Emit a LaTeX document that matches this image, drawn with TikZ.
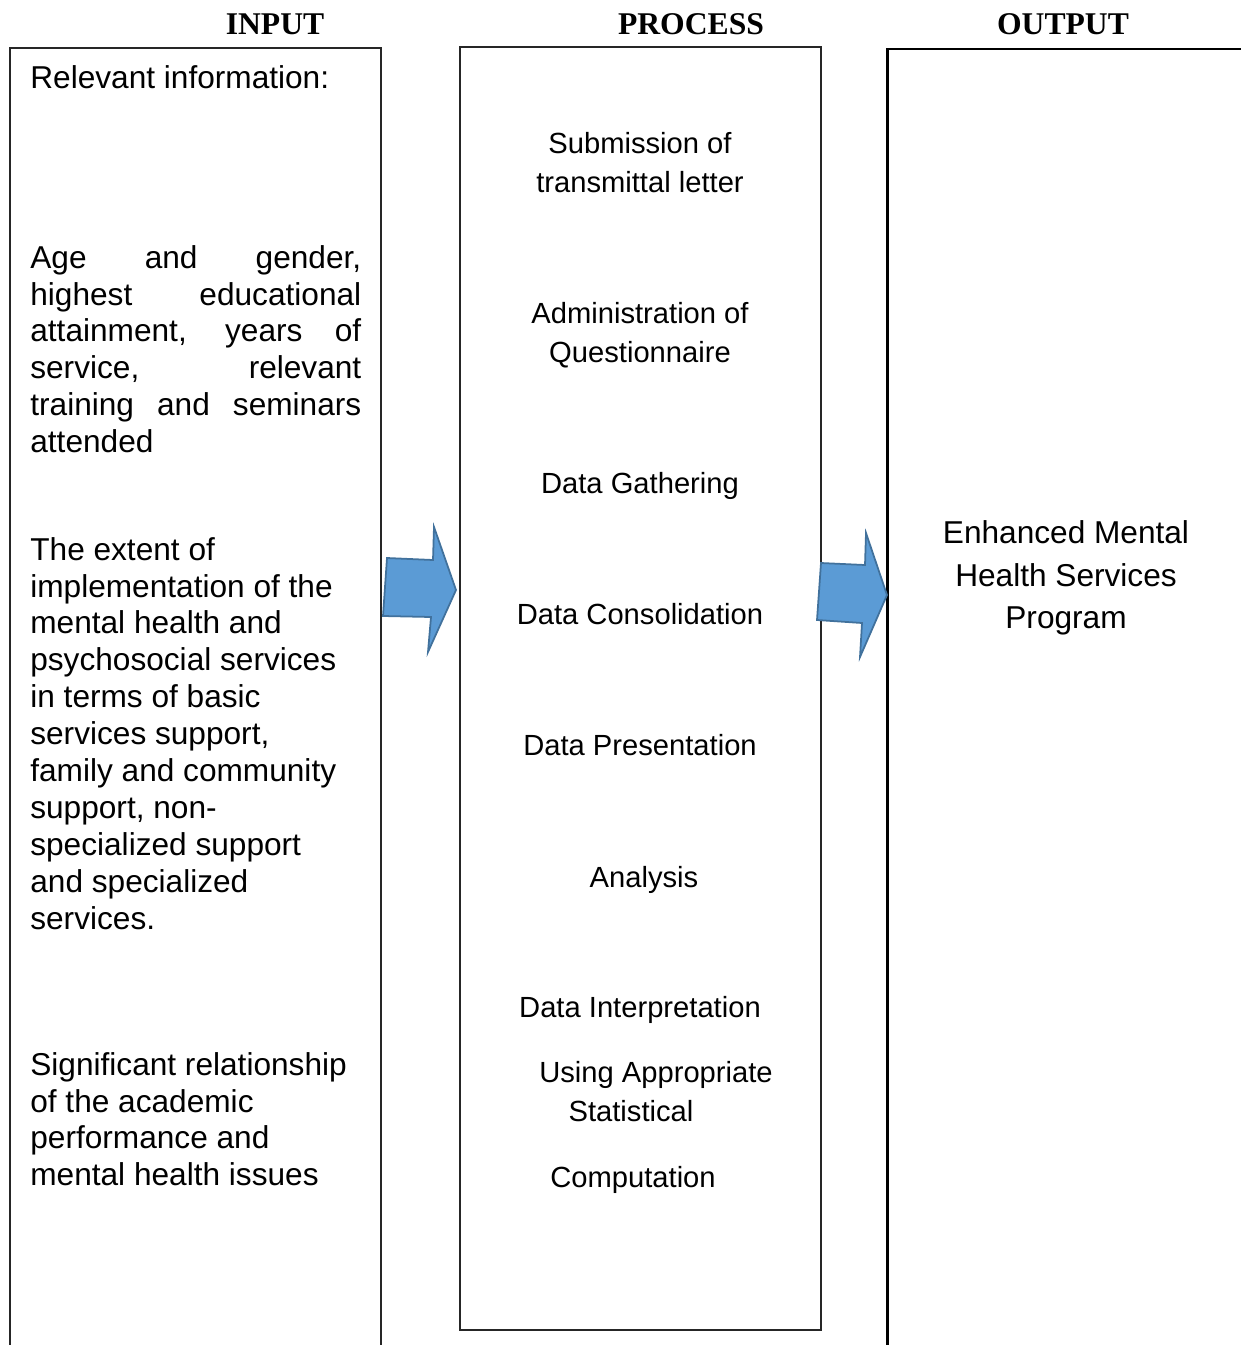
\documentclass[tikz,border=0pt]{standalone}
\usepackage{fontspec}
\setmainfont{Liberation Sans}
\newfontfamily\headfont{Liberation Serif}
\usepackage{xcolor}
\definecolor{blueArrow}{RGB}{91,155,213}
\definecolor{blueEdge}{RGB}{65,113,156}
\usepackage{tikz}
\usetikzlibrary{positioning}

\begin{document}
\begin{tikzpicture}[x=0.02cm, y=-0.02cm,
    head/.style={anchor=base, inner sep=0, font=\headfont\bfseries\fontsize{18}{21}\selectfont},
    intext/.style={anchor=north west, inner sep=0, align=left, font=\fontsize{18}{21}\selectfont},
    steptext/.style={anchor=north, inner sep=0, align=center, font=\fontsize{16.6}{22}\selectfont},
    outtext/.style={anchor=north, inner sep=0, align=center, font=\fontsize{18}{24}\selectfont},
    bigarrow/.style={fill=blueArrow, draw=blueEdge, line width=1pt, line join=miter}]
  \useasboundingbox (0,0) rectangle (1241,1345);
  % Titulos
  \node[head] (inputHead) at (275,35) {INPUT};
  \node[head] (processHead) at (691,35) {PROCESS};
  \node[head] (outputHead) at (1063,35) {OUTPUT};
  % Cajas
  \draw[line width=0.8pt, black!85] (10,1345) -- (10,48) -- (381,48) -- (381,1345);
  \draw[line width=0.9pt, black!85] (460,47) rectangle (821,1330);
  \draw[line width=1.7pt] (887,1345) -- (887,49) -- (1241,49);
  % Columna input
  \node[intext] (infoLabel) at (30,62) {\strut Relevant information:};
  \node[intext] (profile) at (30,242) {\strut\makebox[6.62cm][s]{Age and gender,}\\
    \makebox[6.62cm][s]{highest educational}\\
    \makebox[6.62cm][s]{attainment, years of}\\
    \makebox[6.62cm][s]{service, relevant}\\
    \makebox[6.62cm][s]{training and seminars}\\
    attended};
  \node[intext] (extent) at (30,534) {\strut The extent of\\
    implementation of the\\ mental health and\\ psychosocial services\\
    in terms of basic\\ services support,\\ family and community\\
    support, non-\\ specialized support\\ and specialized\\ services.};
  \node[intext] (relation) at (30,1049) {\strut Significant relationship\\
    of the academic\\ performance and\\ mental health issues};
  % Columna process
  \node[steptext] (submission) at (640,126) {\strut Submission of\\ transmittal letter};
  \node[steptext] (admin) at (640,296) {\strut Administration of\\ Questionnaire};
  \node[steptext] (gathering) at (640,466) {\strut Data Gathering};
  \node[steptext] (consolidation) at (640,597) {\strut Data Consolidation};
  \node[steptext] (presentation) at (640,728) {\strut Data Presentation};
  \node[steptext] (analysis) at (644,860) {\strut Analysis};
  \node[steptext] (interpretation) at (640,990) {\strut Data Interpretation};
  \node[steptext] (using) at (656,1055) {\strut Using Appropriate};
  \node[steptext] (statistical) at (631,1094) {\strut Statistical};
  \node[steptext] (computation) at (633,1160) {\strut Computation};
  % Columna output
  \node[outtext] (program) at (1066,514) {\strut Enhanced Mental\\ Health Services\\ Program};
  % Flechas
  \draw[bigarrow] (387,558) -- (433,560) -- (434,527) -- (456,590) -- (428,652)
    -- (431,617) -- (383,616) -- cycle;
  \draw[bigarrow] (821,563) -- (865,565) -- (866,533) -- (887,595) -- (860,657)
    -- (862,623) -- (817,620) -- cycle;
\end{tikzpicture}
\end{document}
